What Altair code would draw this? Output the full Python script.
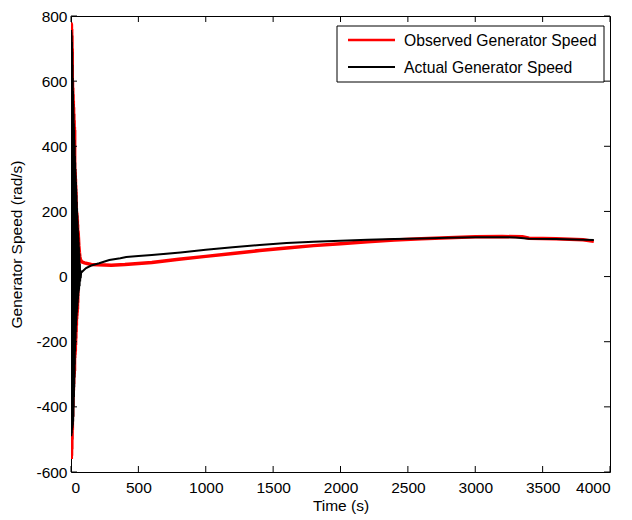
import altair as alt
import pandas as pd

# ---------------- data ----------------
series_names = ["Observed Generator Speed", "Actual Generator Speed"]
series_colors = ["#ff0000", "#000000"]

obs_t = [0, 1, 2, 3, 4, 5, 6, 7, 8, 9, 10, 11, 12, 13, 14, 15, 16, 17, 18, 19,
         20, 21, 22, 23, 24, 25, 26, 27, 28, 29, 30, 31, 32, 33, 34, 35, 36, 37,
         38, 39, 40, 41, 42, 43, 44, 45, 46, 47, 48, 49, 50, 52, 55, 58, 62, 66,
         70, 80, 100, 150, 200, 300, 400, 500, 600, 800, 1000, 1200, 1400, 1600,
         1800, 2000, 2200, 2400, 2600, 2800, 3000, 3200, 3350, 3400, 3600, 3800, 3880]
obs_v = [0, 780, -560, 775, -550, 760, -530, 740, -500, 700, -470, 600, -430, 580,
         -400, 560, -370, 540, -350, 520, -330, 500, -310, 480, -300, 460, -290,
         450, -250, 330, -240, 320, -230, 300, -210, 280, -190, 260, -170, 230,
         -150, 200, -130, 195, -120, 185, -110, 175, -100, 160, -80, 140, 120, 95,
         75, 60, 52, 45, 42, 37, 36, 35, 37, 40, 43, 53, 62, 71, 80, 88, 95, 101,
         107, 112, 116, 119, 122, 123, 122, 118, 116, 113, 108]

act_t = [0, 1, 2, 3, 4, 5, 6, 7, 8, 9, 10, 11, 12, 13, 14, 15, 16, 17, 18, 19,
         20, 21, 22, 23, 24, 25, 26, 27, 28, 29, 30, 31, 32, 33, 34, 35, 36, 37,
         38, 39, 40, 41, 42, 43, 44, 45, 46, 47, 48, 49, 50, 51, 52, 53, 54, 55,
         56, 57, 58, 59, 60, 62, 64, 66, 68, 70, 72, 75, 90, 112, 150, 209, 284,
         366, 410, 500, 600, 813, 1000, 1200, 1400, 1600, 1800, 2000, 2200, 2400,
         2600, 2800, 3000, 3200, 3300, 3400, 3600, 3800, 3880]
act_v = [0, 757, -490, 750, -485, 740, -480, 720, -470, 690, -465, 650, -460, 610,
         -455, 570, -445, 530, -430, 500, -400, 470, -370, 450, -340, 420, -310,
         400, -270, 370, -230, 350, -210, 330, -190, 310, -170, 290, -150, 270,
         -135, 250, -120, 230, -110, 210, -100, 190, -90, 170, -80, 150, -70, 135,
         -60, 120, -50, 105, -45, 90, -40, 70, -30, 40, -15, 20, -5, 12, 18, 26,
         34, 41, 51, 56, 60, 63, 66, 74, 82, 90, 97, 103, 107, 110, 113, 115, 117,
         119, 121, 121, 120, 116, 115, 113, 112]

x_ticks = [0, 500, 1000, 1500, 2000, 2500, 3000, 3500, 4000]
y_ticks = [-600, -400, -200, 0, 200, 400, 600, 800]

# ---------------- tables ----------------
df = pd.concat([
    pd.DataFrame({"t": obs_t, "v": obs_v, "series": series_names[0],
                  "k": range(len(obs_t))}),
    pd.DataFrame({"t": act_t, "v": act_v, "series": series_names[1],
                  "k": range(len(act_t))}),
], ignore_index=True)
xt = pd.DataFrame({"t": x_ticks})
yt = pd.DataFrame({"v": y_ticks})

W, H = 539, 456
FONT = "Liberation Sans"
FS = 15.5
LABEL_EXPR = "datum.value < 0 ? '-' + abs(datum.value) : '' + datum.value"

x_scale = alt.Scale(domain=[0, 4000], nice=False, zero=False)
y_scale = alt.Scale(domain=[-600, 800], nice=False, zero=False)
x_axis = alt.Axis(values=x_ticks, ticks=False, tickSize=0, domain=False, grid=False,
                  title="Time (s)", labelPadding=8, labelExpr=LABEL_EXPR,
                  titleX=W / 2, titleY=38, titleAlign="center",
                  titleBaseline="alphabetic")
y_axis = alt.Axis(values=y_ticks, ticks=False, tickSize=0, domain=False, grid=False,
                  title="Generator Speed (rad/s)", labelPadding=4, labelExpr=LABEL_EXPR,
                  titleX=-50, titleY=H / 2, titleAngle=270, titleAlign="center",
                  titleBaseline="alphabetic")

X = alt.X("t:Q", scale=x_scale, axis=x_axis)
Y = alt.Y("v:Q", scale=y_scale, axis=y_axis)

lines = alt.Chart(df).mark_line(clip=True).encode(
    x=X, y=Y, order="k:Q",
    color=alt.Color("series:N", sort=series_names,
                    scale=alt.Scale(domain=series_names, range=series_colors),
                    legend=None),
    strokeWidth=alt.StrokeWidth("series:N",
                                scale=alt.Scale(domain=series_names, range=[3.5, 2]),
                                legend=None),
)

bottom_ticks = alt.Chart(xt).mark_rule(color="black", strokeWidth=1).encode(
    x=X, y=alt.value(H), y2=alt.value(H - 6))
top_ticks = alt.Chart(xt).mark_rule(color="black", strokeWidth=1).encode(
    x=X, y=alt.value(0), y2=alt.value(6))
left_ticks = alt.Chart(yt).mark_rule(color="black", strokeWidth=1).encode(
    y=Y, x=alt.value(0), x2=alt.value(6))
right_ticks = alt.Chart(yt).mark_rule(color="black", strokeWidth=1).encode(
    y=Y, x=alt.value(W), x2=alt.value(W - 6))

# ---------------- legend (boxed, upper right, MATLAB style) ----------------
leg_box = alt.Chart(pd.DataFrame({"a": [0]})).mark_rect(
    fill="white", stroke="black", strokeWidth=1).encode(
    x=alt.value(266), x2=alt.value(533), y=alt.value(10), y2=alt.value(66))

leg_layers = []
for i, (name, col, sw) in enumerate(zip(series_names, series_colors, [2.5, 2])):
    yy = 24 + 27 * i
    d = pd.DataFrame({"label": [name]})
    leg_layers.append(alt.Chart(d).mark_rule(color=col, strokeWidth=sw).encode(
        x=alt.value(277), x2=alt.value(324), y=alt.value(yy)))
    leg_layers.append(alt.Chart(d).mark_text(
        align="left", baseline="middle", font=FONT, fontSize=15.7, color="black").encode(
        x=alt.value(333), y=alt.value(yy + 1), text="label:N"))

chart = alt.layer(lines, bottom_ticks, top_ticks, left_ticks, right_ticks,
                  leg_box, *leg_layers).properties(
    width=W, height=H,
    autosize=alt.AutoSizeParams(type="none"),
    padding={"left": 63, "top": 8, "right": 14, "bottom": 44},
    background="white",
).configure_view(
    stroke="black", strokeWidth=1
).configure_axis(
    labelFont=FONT, labelFontSize=FS, labelColor="black",
    titleFont=FONT, titleFontSize=FS, titleColor="black", titleFontWeight="normal",
)

chart.save("out.html", embed_options={"renderer": "svg", "actions": False})
